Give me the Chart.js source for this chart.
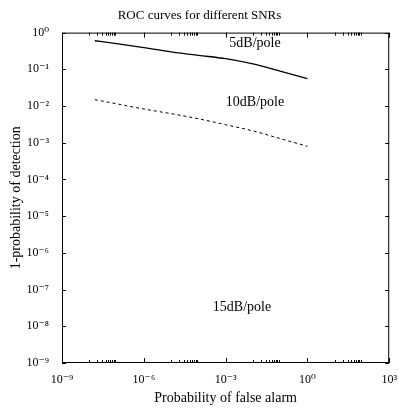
<!DOCTYPE html>
<html>
<head>
<meta charset="utf-8">
<script src="https://cdn.jsdelivr.net/npm/chart.js@4/dist/chart.umd.min.js"></script>
<style>
  html, body { margin: 0; padding: 0; background: #fff; }
  #wrap { width: 399px; height: 408px; }
</style>
</head>
<body>
<div id="wrap"><canvas id="roc_chart" width="399" height="408"></canvas></div>
<script>
// false alarm probabilities (x) where the curves were read
const falseAlarm = [1.6e-8, 1e-7, 1e-6, 1e-5, 1e-4, 1e-3, 1e-2, 1e-1, 1];
// 1 - probability of detection
const miss5dB  = [0.60, 0.50, 0.39, 0.30, 0.24, 0.195, 0.14, 0.089, 0.056];
const miss10dB = [0.0149, 0.0115, 0.0083, 0.0062, 0.0045, 0.0031, 0.0021, 0.0013, 0.0008];

const xLabelExps = [-9, -6, -3, 0, 3];
const yTickExps = [0, -1, -2, -3, -4, -5, -6, -7, -8, -9];

const curveLabels = [
  { text: '5dB/pole',  x: 1.2e-2, y: 0.5 },
  { text: '10dB/pole', x: 1.2e-2, y: 1.23e-2 },
  { text: '15dB/pole', x: 4e-3,   y: 3.2e-8 }
];

const SERIF = '"Liberation Serif", "DejaVu Serif", serif';
const supDigits = { '0': '⁰', '1': '¹', '2': '²', '3': '³', '4': '⁴', '5': '⁵', '6': '⁶', '7': '⁷', '8': '⁸', '9': '⁹', '-': '⁻' };

function pow10Label(e) {
    return '10' + String(e).split('').map(c => supDigits[c]).join('');
}

function toPoints(xs, ys) {
    return xs.map((x, i) => ({ x: x, y: ys[i] }));
}

// x ticks: labelled every 3 decades, with a cluster of minor ticks before each label
function buildXTicks() {
    const ticks = [];
    for (let i = 0; i < xLabelExps.length; i++) {
        const e = xLabelExps[i];
        ticks.push({ value: Math.pow(10, e), major: true });
        if (i < xLabelExps.length - 1) {
            const next = xLabelExps[i + 1];
            for (let k = 1; k <= 9; k++) {
                ticks.push({ value: k * Math.pow(10, next - 2), major: false });
            }
        }
    }
    return ticks;
}

const frameTicks = {
    id: 'frameTicks',
    afterDraw(chart) {
        const ctx = chart.ctx;
        const a = chart.chartArea;
        const xs = chart.scales.x;
        const ys = chart.scales.y;
        ctx.save();
        ctx.strokeStyle = '#000';
        ctx.lineWidth = 1;
        ctx.strokeRect(a.left + 0.5, a.top + 0.5, a.right - a.left - 1, a.bottom - a.top - 1);
        ctx.beginPath();
        for (const t of xs.ticks) {
            const px = Math.round(xs.getPixelForValue(t.value)) + 0.5;
            const len = t.major ? 5 : 3;
            ctx.moveTo(px, a.bottom);
            ctx.lineTo(px, a.bottom - len);
            ctx.moveTo(px, a.top);
            ctx.lineTo(px, a.top + len);
        }
        for (const t of ys.ticks) {
            const py = Math.round(ys.getPixelForValue(t.value)) + 0.5;
            ctx.moveTo(a.left, py);
            ctx.lineTo(a.left + 4, py);
            ctx.moveTo(a.right, py);
            ctx.lineTo(a.right - 4, py);
        }
        ctx.stroke();

        ctx.fillStyle = '#000';
        ctx.font = '14px ' + SERIF;
        ctx.textAlign = 'center';
        ctx.textBaseline = 'middle';
        for (const l of curveLabels) {
            ctx.fillText(l.text, xs.getPixelForValue(l.x), ys.getPixelForValue(l.y));
        }
        ctx.restore();
    }
};

const ctx = document.getElementById('roc_chart').getContext('2d');
new Chart(ctx, {
    type: 'line',
    data: {
        datasets: [
            {
                label: '5dB/pole',
                data: toPoints(falseAlarm, miss5dB),
                borderColor: '#000',
                borderWidth: 1.3,
                pointRadius: 0,
                cubicInterpolationMode: 'monotone',
                fill: false
            },
            {
                label: '10dB/pole',
                data: toPoints(falseAlarm, miss10dB),
                borderColor: '#000',
                borderWidth: 1,
                borderDash: [3, 3],
                pointRadius: 0,
                cubicInterpolationMode: 'monotone',
                fill: false
            }
        ]
    },
    options: {
        responsive: false,
        animation: false,
        layout: { padding: 0 },
        plugins: {
            legend: { display: false },
            tooltip: { enabled: false },
            title: {
                display: true,
                text: 'ROC curves for different SNRs',
                color: '#000',
                font: { family: SERIF, size: 13, weight: 'normal' },
                padding: { top: 8, bottom: 9 }
            }
        },
        scales: {
            x: {
                type: 'logarithmic',
                min: 1e-9,
                max: 1e3,
                grid: { display: false },
                border: { display: false },
                afterBuildTicks: scale => { scale.ticks = buildXTicks(); },
                afterFit: scale => { scale.height = 45; },
                ticks: {
                    autoSkip: false,
                    maxRotation: 0,
                    padding: 2,
                    color: '#000',
                    font: { family: SERIF, size: 12 },
                    callback: function (v) {
                        const e = Math.round(Math.log10(v));
                        if (Math.abs(Math.pow(10, e) - v) / v < 1e-6 && xLabelExps.includes(e)) {
                            return pow10Label(e);
                        }
                        return '';
                    }
                },
                title: {
                    display: true,
                    text: 'Probability of false alarm',
                    color: '#000',
                    font: { family: SERIF, size: 14 },
                    padding: { top: 4, bottom: 1 }
                }
            },
            y: {
                type: 'logarithmic',
                min: 1e-9,
                max: 1,
                grid: { display: false },
                border: { display: false },
                afterBuildTicks: scale => {
                    scale.ticks = yTickExps.map(e => ({ value: Math.pow(10, e), major: true }));
                },
                afterFit: scale => { scale.width = 62; },
                ticks: {
                    autoSkip: false,
                    padding: 5,
                    color: '#000',
                    font: { family: SERIF, size: 12 },
                    callback: v => pow10Label(Math.round(Math.log10(v)))
                },
                title: {
                    display: true,
                    text: '1-probability of detection',
                    color: '#000',
                    font: { family: SERIF, size: 14 },
                    padding: { top: 8, bottom: 4 }
                }
            }
        }
    },
    plugins: [frameTicks]
});
</script>
</body>
</html>
